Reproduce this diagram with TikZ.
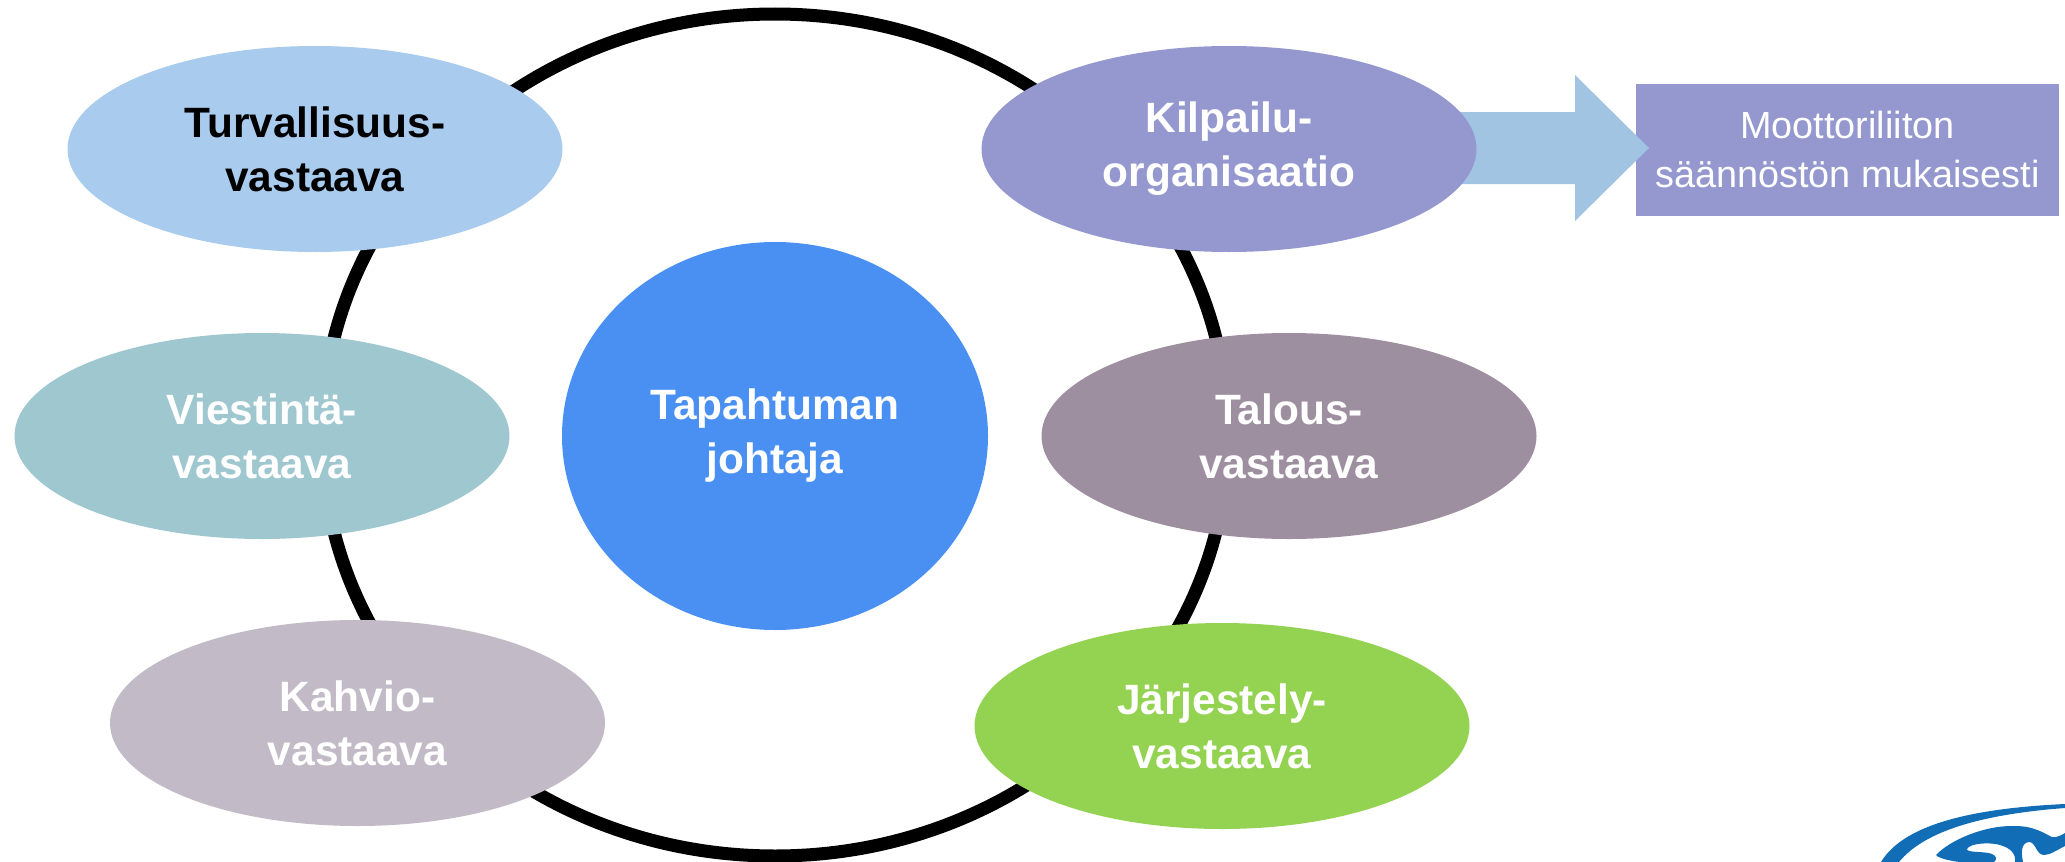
\documentclass[tikz,border=0pt]{standalone}
\usepackage{fontspec}
\usetikzlibrary{shapes.geometric}
\setmainfont{Liberation Sans}
\definecolor{cturva}{HTML}{A9CBEE}
\definecolor{ckilp}{HTML}{9498CF}
\definecolor{carrow}{HTML}{A1C4E2}
\definecolor{cvies}{HTML}{9FC7CF}
\definecolor{ctal}{HTML}{9E8FA0}
\definecolor{ckah}{HTML}{C2BBC7}
\definecolor{cjar}{HTML}{94D351}
\definecolor{cjoh}{HTML}{4A90F2}
\definecolor{clogo}{HTML}{116DB6}
\tikzset{
  x=1pt,y=-1pt,
  role/.style={ellipse,minimum width=495pt,minimum height=206pt,inner sep=0pt,align=center,text=white,
    font=\fontsize{42.4}{54}\selectfont\bfseries},
  lead/.style={ellipse,minimum width=426pt,minimum height=388pt,inner sep=0pt,align=center,text=white,
    font=\fontsize{42.4}{54}\selectfont\bfseries,fill=cjoh},
  notebox/.style={rectangle,minimum width=423pt,minimum height=132pt,inner sep=0pt,align=center,text=white,
    fill=ckilp,font=\fontsize{37.8}{49}\selectfont},
  ring/.style={ellipse,minimum width=906pt,minimum height=842pt,inner sep=0pt,outer sep=0pt,draw=black,line width=13pt},
}
\begin{document}
\begin{tikzpicture}
\useasboundingbox (0,0) rectangle (2065,862);
\begin{scope}
\clip (0,0) rectangle (2065,862);
\node[ring] (ring) at (775,435) {};
\fill[clogo] (1881,862) .. controls (1905,822) and (1980,808) .. (2065,804)
  -- (2065,808) .. controls (1985,814) and (1925,830) .. (1899,862) -- cycle;
\fill[clogo] (1936,855) .. controls (1950,840) and (1985,825) .. (2015,826)
  .. controls (2035,826) and (2045,834) .. (2052,837) .. controls (2056,838) and (2062,835) .. (2065,833)
  -- (2065,846) .. controls (2057,850) and (2050,855) .. (2044,855)
  .. controls (2036,855) and (2036,842) .. (2029,842) .. controls (2021,843) and (2021,852) .. (2023,862)
  -- (2015,862) .. controls (2016,853) and (2010,848) .. (2000,845)
  .. controls (1990,842) and (1970,843) .. (1967,849) .. controls (1966,853) and (1985,851) .. (1992,854)
  .. controls (1997,856) and (1997,860) .. (1994,862)
  -- (1960,862) .. controls (1950,861) and (1938,858) .. (1936,855) -- cycle;
\end{scope}
\node[notebox] (note) at (1847.5,149.5) {Moottoriliiton\\säännöstön mukaisesti};
\coordinate (tip) at (1649,148);
\fill[carrow] (1429,112) -- (1575,112) -- (1575,75) -- (tip) -- (1575,221) -- (1575,184) -- (1429,184) -- cycle;
\node[role,fill=cturva,text=black] (turva) at (315,149) {Turvallisuus-\\vastaava};
\node[role,fill=ckilp] (kilp) at (1229,149) {Kilpailu-\\organisaatio};
\node[role,fill=cvies] (vies) at (262,436) {Viestintä-\\vastaava};
\node[role,fill=ctal] (tal) at (1289,436) {Talous-\\vastaava};
\node[role,fill=ckah] (kah) at (357.5,723) {Kahvio-\\vastaava};
\node[role,fill=cjar] (jar) at (1222,726) {Järjestely-\\vastaava};
\node[lead] (joh) at (775,436) {Tapahtuman\\johtaja};
\end{tikzpicture}
\end{document}
